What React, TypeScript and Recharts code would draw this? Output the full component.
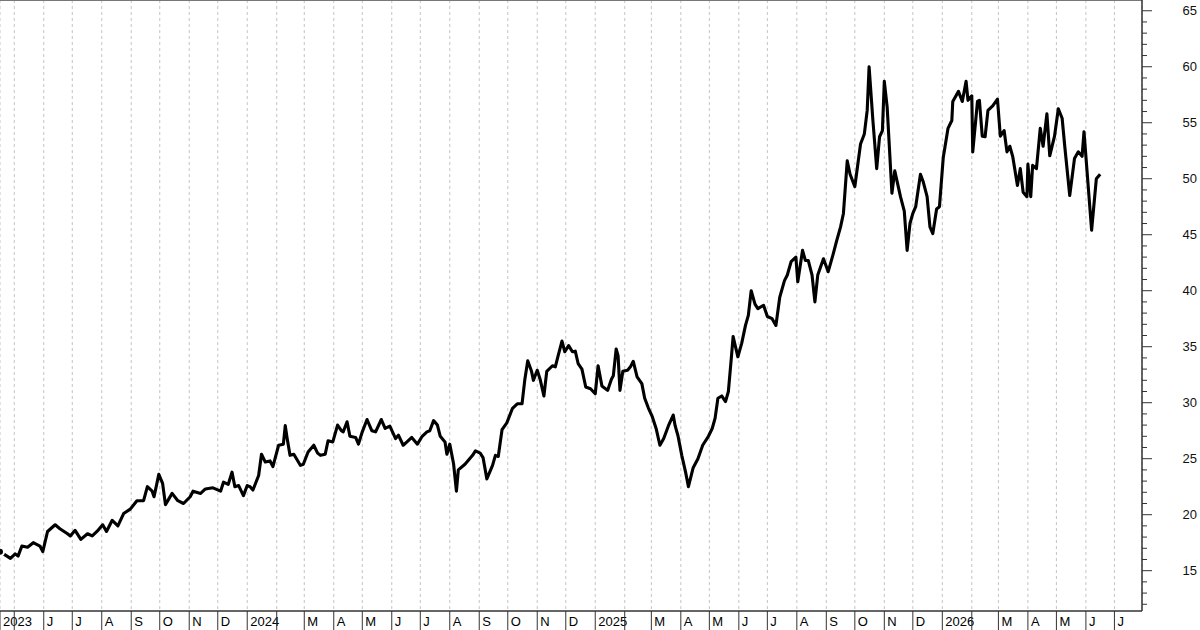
import { LineChart, Line, XAxis, YAxis, CartesianGrid, ReferenceLine } from 'recharts'

// day offsets are counted from 2023-05-01
const DAY_ZERO = Date.UTC(2023, 4, 1)
const chartStartDay = -15
const chartEndDay = 1186
const yDomain: [number, number] = [11.4, 65.96]
const monthInitials = ['J', 'F', 'M', 'A', 'M', 'J', 'J', 'A', 'S', 'O', 'N', 'D']
const startLabel = '2023'

// [day offset, close]
const points2023: [number, number][] = [
  [-15, 16.7], [-4, 16.1], [1, 16.5], [4, 16.3], [8, 17.2], [14, 17.1], [20, 17.5], [27, 17.2],
  [30, 16.7], [35, 18.5], [43, 19.1], [48, 18.75], [56, 18.3], [59, 18.1], [64, 18.6], [70, 17.8],
  [77, 18.3], [82, 18.1], [87, 18.5], [93, 19.1], [97, 18.5], [103, 19.5], [109, 19.0], [115, 20.1],
  [122, 20.5], [129, 21.25], [136, 21.25], [140, 22.5], [145, 22.1], [147, 21.6], [150, 22.8],
  [152, 23.6], [156, 22.8], [159, 20.9], [166, 21.9], [172, 21.25], [178, 21.0], [185, 21.6],
  [188, 22.1], [196, 21.9], [201, 22.3], [209, 22.4], [217, 22.1], [220, 22.9], [225, 22.7],
  [229, 23.8], [232, 22.5], [236, 22.6], [241, 21.7],
]

const points2024: [number, number][] = [
  [245, 22.6], [248, 22.5], [251, 22.2], [257, 23.5], [260, 25.4], [264, 24.7], [269, 24.8],
  [272, 24.3], [278, 26.2], [283, 26.3], [285, 27.95], [287, 26.8], [290, 25.3], [294, 25.4],
  [301, 24.4], [304, 24.5], [309, 25.6], [315, 26.2], [319, 25.5], [322, 25.3], [327, 25.4],
  [330, 26.6], [335, 26.5], [340, 28.0], [344, 27.5], [346, 27.4], [350, 28.3], [353, 27.0],
  [359, 26.9], [362, 26.3], [366, 27.4], [371, 28.5], [376, 27.5], [380, 27.4], [386, 28.5],
  [390, 27.7], [395, 27.9], [401, 26.8], [404, 27.1], [409, 26.2], [413, 26.5], [418, 26.9],
  [424, 26.3], [429, 27.0], [434, 27.4], [437, 27.5], [441, 28.4], [445, 28.0], [448, 27.0],
  [453, 26.5], [455, 25.4], [458, 26.3], [462, 24.55], [465, 22.1], [467, 24.0], [474, 24.5],
  [482, 25.3], [485, 25.7], [490, 25.5], [493, 25.1], [497, 23.2], [503, 24.4], [506, 25.3],
  [509, 25.2], [513, 27.6], [518, 28.2], [524, 29.5], [529, 29.9], [534, 29.9], [537, 32.1],
  [540, 33.75], [544, 32.8], [546, 32.0], [550, 32.9], [553, 32.1], [557, 30.6], [560, 32.8],
  [566, 33.3], [569, 33.2], [572, 34.2], [576, 35.5], [579, 34.55], [583, 35.1], [587, 34.55],
  [590, 34.6], [593, 33.5], [597, 33.0], [601, 31.4], [606, 31.25],
]

const points2025: [number, number][] = [
  [611, 30.8], [614, 33.3], [618, 31.5], [624, 31.1], [628, 32.1], [630, 32.4], [633, 34.8],
  [635, 34.2], [637, 31.1], [640, 32.8], [645, 32.9], [648, 33.2], [651, 33.7], [655, 32.3],
  [660, 31.7], [663, 30.4], [667, 29.5], [671, 28.75], [675, 27.7], [679, 26.2], [683, 26.8],
  [688, 27.95], [693, 28.9], [695, 27.95], [698, 27.05], [702, 25.3], [706, 23.8], [709, 22.5],
  [714, 24.2], [719, 25.0], [724, 26.2], [730, 27.0], [734, 27.7], [737, 28.6], [740, 30.4],
  [744, 30.6], [748, 30.1], [751, 31.0], [754, 33.9], [756, 35.9], [761, 34.1], [765, 35.3],
  [769, 36.9], [772, 37.8], [775, 40.0], [779, 38.8], [782, 38.4], [788, 38.7], [792, 37.7],
  [797, 37.5], [801, 36.9], [805, 39.4], [810, 40.9], [813, 41.4], [817, 42.6], [822, 43.0],
  [824, 40.8], [829, 43.6], [832, 42.7], [835, 42.7], [839, 41.4], [842, 39.0], [845, 41.4],
  [851, 42.85], [856, 41.7], [861, 43.2], [865, 44.5], [869, 45.7], [872, 46.9], [876, 51.6],
  [879, 50.4], [884, 49.3], [890, 53.1], [894, 54.0], [897, 56.1], [899, 60.0], [903, 55.2],
  [907, 50.9], [910, 53.75], [913, 54.3], [915, 58.7], [918, 56.4], [923, 48.7], [926, 50.7],
  [932, 48.4], [936, 47.1], [939, 43.6], [942, 46.0], [945, 46.9], [948, 47.5], [953, 50.4],
  [956, 49.7], [960, 48.4], [963, 45.7], [966, 45.1], [970, 47.3], [973, 47.5],
]

const points2026: [number, number][] = [
  [977, 51.9], [982, 54.5], [986, 55.2], [987, 56.9], [993, 57.8], [997, 56.9], [1001, 58.7],
  [1003, 57.0], [1007, 57.4], [1008, 52.4], [1013, 56.9], [1015, 57.0], [1018, 53.8],
  [1021, 53.75], [1024, 56.1], [1029, 56.5], [1034, 57.1], [1037, 53.8], [1041, 54.3],
  [1044, 52.4], [1047, 52.9], [1050, 52.0], [1055, 49.4], [1058, 50.9], [1061, 48.8],
  [1065, 48.4], [1066, 51.3], [1069, 48.4], [1071, 51.2], [1075, 50.9], [1079, 54.5],
  [1082, 52.9], [1086, 55.8], [1089, 52.05], [1094, 53.8], [1098, 56.25], [1102, 55.4],
  [1105, 52.7], [1110, 48.5], [1115, 51.8], [1119, 52.4], [1123, 52.0], [1125, 54.2],
  [1128, 50.9], [1133, 45.4], [1138, 50.0], [1142, 50.4],
]

const data = [...points2023, ...points2024, ...points2025, ...points2026].map(([day, close]) => ({ day, close }))

// month ticks, May 2023 .. Jul 2026
const tickLabels = new Map<number, string>()
tickLabels.set(chartStartDay, startLabel)
let prevLabel = startLabel
for (let y = 2023, m = 4; y < 2026 || (y === 2026 && m <= 6); ) {
  const day = Math.round((Date.UTC(y, m, 1) - DAY_ZERO) / 86400000)
  let label = m === 0 ? String(y) : monthInitials[m]
  // the month after a year label is covered by it
  if (prevLabel.length === 4) label = ''
  tickLabels.set(day, label)
  prevLabel = label
  m++
  if (m > 11) { m = 0; y++ }
}
const xTicks = Array.from(tickLabels.keys())

const yTicks: number[] = []
for (let v = 12; v <= 65; v++) yTicks.push(v)

const font = '"Liberation Sans", Arial, sans-serif'

function MonthTick(props: any) {
  const { x, y, payload } = props
  const label = tickLabels.get(payload.value) ?? ''
  return (
    <g>
      <line x1={x} x2={x} y1={y} y2={y + 20} stroke="#333" strokeWidth={1} />
      <text x={x + 3} y={y + 15} fontSize={13} fontFamily={font} fill="#000">
        {label}
      </text>
    </g>
  )
}

function PriceTick(props: any) {
  const { x, y, payload } = props
  const major = payload.value % 5 === 0
  return (
    <g>
      <line x1={x} x2={x + (major ? 10 : 5)} y1={y} y2={y} stroke="#333" strokeWidth={1} />
      {major && (
        <text x={x + 55} y={y + 4.5} textAnchor="end" fontSize={13} fontFamily={font} fill="#111">
          {payload.value}
        </text>
      )}
    </g>
  )
}

export default function App() {
  return (
    <div style={{ position: 'absolute', left: 0, top: 0, width: 1200, height: 630, background: '#fff' }}>
      <LineChart width={1200} height={630} data={data} margin={{ top: 0, right: 0, bottom: 0, left: 0 }}>
        <CartesianGrid horizontal={false} stroke="#c4c4c4" strokeDasharray="3 3" />
        <XAxis
          dataKey="day"
          type="number"
          domain={[chartStartDay, chartEndDay]}
          ticks={xTicks}
          interval={0}
          allowDataOverflow
          height={19}
          tickSize={0}
          tickMargin={0}
          tickLine={false}
          axisLine={{ stroke: '#333', strokeWidth: 1.5 }}
          tick={<MonthTick />}
        />
        <YAxis
          orientation="right"
          type="number"
          domain={yDomain}
          ticks={yTicks}
          interval={0}
          allowDataOverflow
          width={58}
          tickSize={0}
          tickMargin={0}
          tickLine={false}
          axisLine={{ stroke: '#333', strokeWidth: 1.5 }}
          tick={<PriceTick />}
        />
        <ReferenceLine y={yDomain[1]} stroke="#777" strokeWidth={2} />
        <Line
          type="linear"
          dataKey="close"
          stroke="#000"
          strokeWidth={3.1}
          strokeLinejoin="round"
          dot={false}
          isAnimationActive={false}
        />
      </LineChart>
    </div>
  )
}
